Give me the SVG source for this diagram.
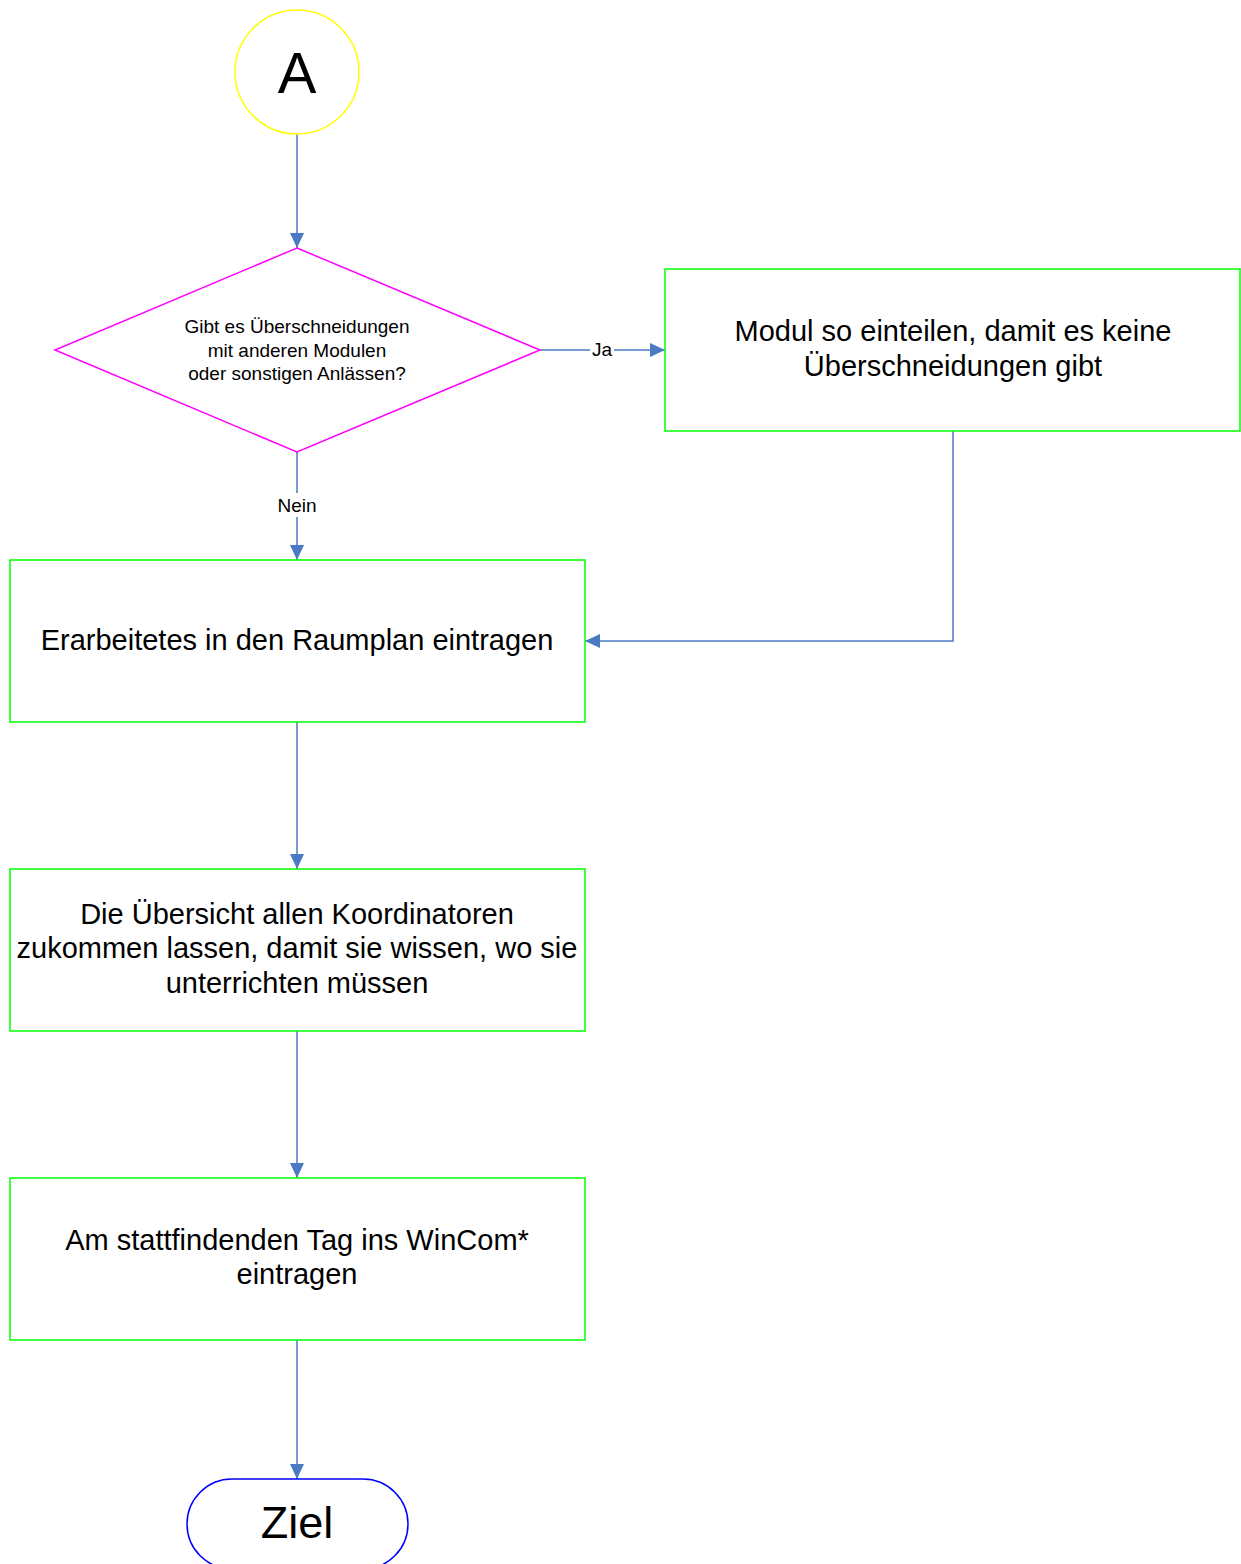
<svg xmlns="http://www.w3.org/2000/svg" width="1241" height="1564" viewBox="0 0 1241 1564">
<style>
text{font-family:"Liberation Sans",Arial,sans-serif;fill:#000;text-anchor:middle;dominant-baseline:central}
.box{fill:#fff;stroke:#00ff00;stroke-width:1.5}
.bt{font-size:29px}
.st{font-size:19px}
.c{fill:none;stroke:#4a7ac4;stroke-width:1.5}
.lbl{fill:#fff;stroke:none}
</style>
<defs>
<marker id="ah" markerWidth="15" markerHeight="14" refX="15" refY="7" orient="auto" markerUnits="userSpaceOnUse">
<path d="M0,0 L15,7 L0,14 Z" fill="#4a7ac4"/>
</marker>
</defs>
<rect width="1241" height="1564" fill="#fff"/>
<g id="connectors">
<path class="c" d="M297,134 V248" marker-end="url(#ah)"/>
<path class="c" d="M540,350 H665" marker-end="url(#ah)"/>
<path class="c" d="M297,452 V560" marker-end="url(#ah)"/>
<path class="c" d="M953,431 V641 H585" marker-end="url(#ah)"/>
<path class="c" d="M297,722 V869" marker-end="url(#ah)"/>
<path class="c" d="M297,1031 V1178" marker-end="url(#ah)"/>
<path class="c" d="M297,1340 V1479" marker-end="url(#ah)"/>
<rect class="lbl" x="590" y="339" width="24" height="22"/>
<text class="st" x="602" y="349">Ja</text>
<rect class="lbl" x="275" y="493" width="44" height="24"/>
<text class="st" x="297" y="505">Nein</text>
</g>
<g id="start">
<circle cx="297" cy="72" r="62" fill="#fff" stroke="#ffff00" stroke-width="1.5"/>
<text x="297" y="72" font-size="58">A</text>
</g>
<g id="decision">
<polygon points="297,248 540,350 297,452 55,350" fill="#fff" stroke="#ff00ff" stroke-width="1.5"/>
<text class="st" x="297" y="326">Gibt es Überschneidungen</text>
<text class="st" x="297" y="350">mit anderen Modulen</text>
<text class="st" x="297" y="373">oder sonstigen Anlässen?</text>
</g>
<g id="modul">
<rect class="box" x="665" y="269" width="575" height="162"/>
<text class="bt" x="953" y="331">Modul so einteilen, damit es keine</text>
<text class="bt" x="953" y="366">Überschneidungen gibt</text>
</g>
<g id="raumplan">
<rect class="box" x="10" y="560" width="575" height="162"/>
<text class="bt" x="297" y="640">Erarbeitetes in den Raumplan eintragen</text>
</g>
<g id="uebersicht">
<rect class="box" x="10" y="869" width="575" height="162"/>
<text class="bt" x="297" y="914">Die Übersicht allen Koordinatoren</text>
<text class="bt" x="297" y="948">zukommen lassen, damit sie wissen, wo sie</text>
<text class="bt" x="297" y="983">unterrichten müssen</text>
</g>
<g id="wincom">
<rect class="box" x="10" y="1178" width="575" height="162"/>
<text class="bt" x="297" y="1240">Am stattfindenden Tag ins WinCom*</text>
<text class="bt" x="297" y="1274">eintragen</text>
</g>
<g id="ziel">
<rect x="187" y="1479" width="221" height="90" rx="45" fill="#fff" stroke="#0000ff" stroke-width="1.5"/>
<text x="297" y="1522" font-size="45">Ziel</text>
</g>
</svg>
